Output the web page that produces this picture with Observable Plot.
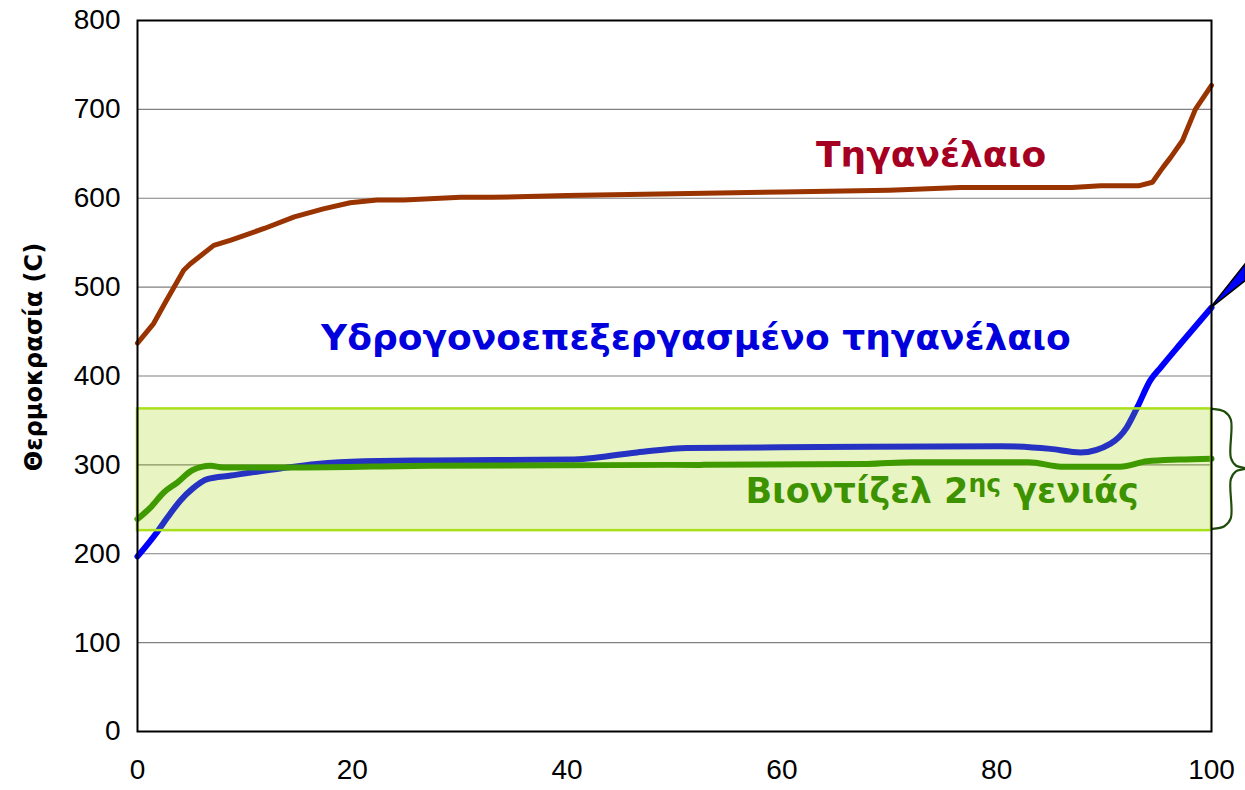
<!DOCTYPE html>
<html>
<head>
<meta charset="utf-8">
<script src="https://cdn.jsdelivr.net/npm/d3@7"></script>
<script src="https://cdn.jsdelivr.net/npm/@observablehq/plot@0.6"></script>
<style>
  html, body { margin: 0; padding: 0; background: #fff; }
  #chart svg { display: block; overflow: visible; }
</style>
</head>
<body>
<div id="chart"></div>
<script>
// Distillation curves: temperature (°C) vs. percent distilled
const wasteOilX = [0, 1.5, 2.6, 4.3, 4.9, 7.1, 8.7, 11.8, 14.6, 17.3, 19.8, 22.3, 24.8, 30.1, 33, 40, 50, 60, 70, 76.6, 80.4, 87, 89.7, 93.2, 94.5, 95.5, 96.2, 97.3, 98.5, 100];
const wasteOilT = [437, 459, 483, 519, 526, 547, 553, 566, 579, 588, 595, 598, 598, 601, 601, 603, 605, 607, 609, 612, 612, 612, 614, 614, 618, 635, 646, 665, 700, 727];

const hvoX = [0, 1.8, 2.8, 4.0, 5.1, 6.5, 8.7, 13.3, 16.7, 21.1, 27.3, 40.3, 46.5, 51.2, 63.6, 80.4, 85, 87.8, 90.6, 92.1, 93.1, 94.3, 95.3, 97.1, 100];
const hvoT = [197, 224, 241, 260, 273, 284, 288, 296, 301, 304, 305, 306, 314, 319, 320, 321, 318, 314, 324, 342, 365, 395, 410, 436, 477];

const bioX = [0, 1.2, 2.45, 3.7, 5.1, 6.8, 8, 14.9, 27.3, 49.6, 52.4, 68, 72, 83, 86, 91.5, 94, 97, 100];
const bioT = [239, 252, 269, 280, 294, 299, 297, 297, 299, 300, 300, 301, 303, 303, 298, 298, 304, 306, 307];

const seriesNames = ["Τηγανέλαιο", "Υδρογονοεπεξεργασμένο τηγανέλαιο", "Βιοντίζελ 2ης γενιάς"];
const yTicks = [0, 100, 200, 300, 400, 500, 600, 700, 800];
const xTicks = [0, 20, 40, 60, 80, 100];
const yLabel = "Θερμοκρασία (C)";

// Band marking the 2nd-generation biodiesel range
const bandLow = 226, bandHigh = 363;

// Callout wedge leaving the end of the HVO curve
const wedge = [{x: 99.9, lo: 475.6, hi: 475.6}, {x: 103.2, lo: 507, hi: 526}];

// Curly brace beside the band
const braceX = [100.1, 101.2, 101.8, 101.8, 102.3, 103.2, 102.3, 101.8, 101.8, 101.2, 100.1];
const braceT = [363, 360, 351, 308, 299, 296, 293, 284, 240, 231, 228];

const toPoints = (xs, ys) => xs.map((x, i) => ({x, t: ys[i]}));
const wasteOil = toPoints(wasteOilX, wasteOilT);
const hvo = toPoints(hvoX, hvoT);
const bio = toPoints(bioX, bioT);
const brace = toPoints(braceX, braceT);

const tickFont = "'Liberation Sans', Arial, Helvetica, sans-serif";
const labelFont = "'DejaVu Sans', Verdana, sans-serif";

const plot = Plot.plot({
  width: 1245,
  height: 790,
  marginLeft: 137,
  marginRight: 34,
  marginTop: 20,
  marginBottom: 59,
  style: {fontFamily: tickFont, background: "white", overflow: "visible"},
  x: {domain: [0, 100]},
  y: {domain: [0, 800]},
  marks: [
    Plot.gridY(yTicks.filter(d => d > 0 && d < 800), {stroke: "#808080", strokeOpacity: 1, strokeWidth: 1.2}),
    Plot.axisY({ticks: yTicks, tickSize: 0, tickPadding: 17, fontSize: 28, label: null, fill: "black"}),
    Plot.axisX({ticks: xTicks, tickSize: 0, tickPadding: 28, fontSize: 28, label: null, fill: "black"}),
    Plot.text([yLabel], {frameAnchor: "left", textAnchor: "middle", rotate: -90, dx: -103, dy: -19,
      fontSize: 24, fontWeight: "bold", fontFamily: labelFont, fill: "black"}),
    Plot.line(wasteOil, {x: "x", y: "t", stroke: "#993300", strokeWidth: 5}),
    Plot.line(hvo, {x: "x", y: "t", stroke: "#0000ff", strokeWidth: 6, curve: "monotone-x"}),
    Plot.line(bio, {x: "x", y: "t", stroke: "#228800", strokeWidth: 6, curve: "monotone-x"}),
    Plot.text([seriesNames[0]], {x: 73.9, y: 648, fontSize: 36, fontWeight: "bold", fontFamily: labelFont, fill: "#a50021"}),
    Plot.text([seriesNames[1]], {x: 52.0, y: 442, fontSize: 36, fontWeight: "bold", fontFamily: labelFont, fill: "#0000dd"}),
    Plot.text([seriesNames[2]], {x: 56.6, y: 270, textAnchor: "start", fontSize: 35, fontWeight: "bold", fontFamily: labelFont, fill: "#1f7d00"}),
    Plot.rect([{x1: 0, x2: 100, y1: bandLow, y2: bandHigh}], {
      x1: "x1", x2: "x2", y1: "y1", y2: "y2",
      fill: "rgb(160,215,0)", fillOpacity: 0.24, stroke: "#a8e01a", strokeWidth: 2.5
    }),
    Plot.area(wedge, {x1: "x", y1: "lo", y2: "hi", fill: "#0000ff", stroke: "black", strokeWidth: 1.5}),
    Plot.line(brace, {x: "x", y: "t", stroke: "#1f4d0c", strokeWidth: 2.2, curve: "catmull-rom"}),
    Plot.frame({stroke: "black", strokeWidth: 2})
  ]
});

// Raise the "ης" ordinal suffix as a superscript
const bioLabel = [...plot.querySelectorAll("text")].find(t => t.textContent === seriesNames[2]);
if (bioLabel) {
  const [before, after] = seriesNames[2].split("ης");
  bioLabel.textContent = "";
  const ns = "http://www.w3.org/2000/svg";
  const t1 = document.createElementNS(ns, "tspan");
  t1.textContent = before;
  const t2 = document.createElementNS(ns, "tspan");
  t2.textContent = "ης";
  t2.setAttribute("dy", "-11");
  t2.setAttribute("font-size", "25");
  const t3 = document.createElementNS(ns, "tspan");
  t3.textContent = after;
  t3.setAttribute("dy", "11");
  bioLabel.append(t1, t2, t3);
}

document.getElementById("chart").append(plot);
</script>
</body>
</html>
